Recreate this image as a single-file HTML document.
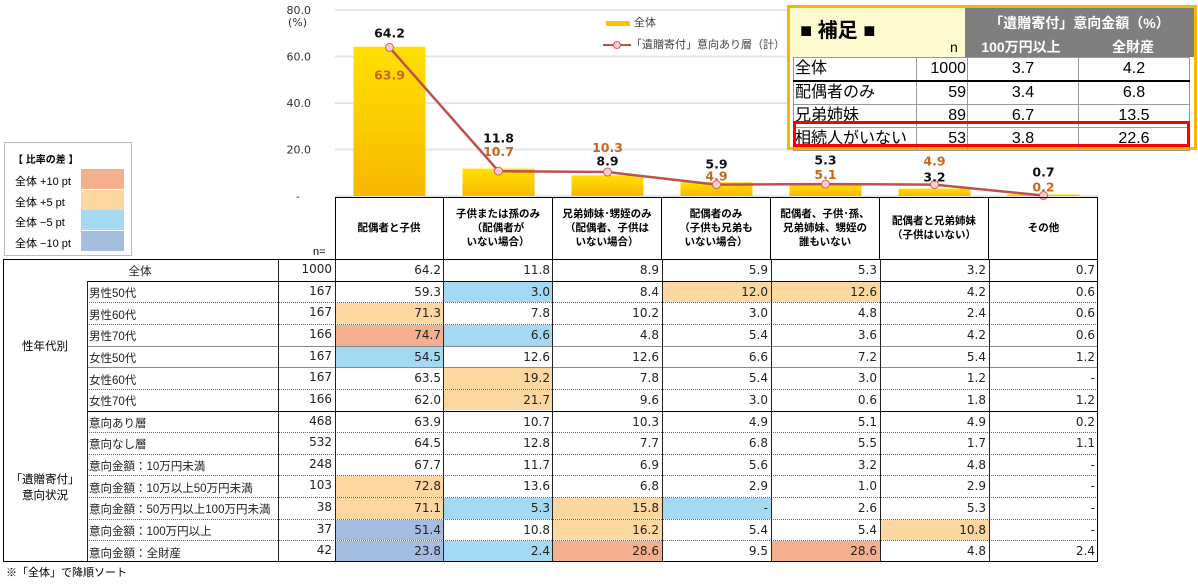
<!DOCTYPE html>
<html><head><meta charset="utf-8">
<style>
body{margin:0;width:1198px;height:584px;background:#fff;position:relative;overflow:hidden;font-family:"DejaVu Sans","Noto Sans CJK JP",sans-serif;}
.a{position:absolute;box-sizing:border-box;}
.jp{font-family:"Liberation Sans","Noto Sans CJK JP",sans-serif;}
.cell{position:absolute;box-sizing:border-box;font-size:12px;line-height:21px;text-align:right;padding-right:3px;color:#222;}
.lbl{display:flex;align-items:center;line-height:14px;padding-top:5px;}
.hd{position:absolute;box-sizing:border-box;font-size:10.5px;font-weight:bold;text-align:center;display:flex;align-items:center;justify-content:center;line-height:14px;border-right:1px solid #000;}
.sup td{border:1px solid #999;}
</style></head><body>
<svg id="chart" class="a" style="left:0;top:0" width="1198" height="260"></svg>

<div class="a jp" style="left:606px;top:14px;font-size:11px;color:#444;"><span style="display:inline-block;width:24px;height:5px;background:#f9c400;vertical-align:middle;margin-right:4px"></span>全体</div>
<div class="a jp" style="left:603px;top:36px;font-size:11px;color:#444;white-space:nowrap"><svg width="28" height="10" style="vertical-align:middle"><line x1="0" y1="5" x2="28" y2="5" stroke="#c0504d" stroke-width="2"/><circle cx="14" cy="5" r="3.5" fill="#fbd0c0" stroke="#d06060"/></svg>「遺贈寄付」意向あり層（計）</div>

<div class="a jp" style="left:4px;top:142px;width:128px;height:114px;border:1px solid #bbb;font-size:11px;">
<div style="position:absolute;left:8px;top:8px;font-weight:bold;font-size:10px">【 比率の差 】</div>
<div style="position:absolute;left:10px;top:30px">全体 +10 pt</div><div style="position:absolute;left:76px;top:26px;width:43px;height:20px;background:#f4b08e"></div>
<div style="position:absolute;left:10px;top:51px">全体 +5 pt</div><div style="position:absolute;left:76px;top:47px;width:43px;height:20px;background:#fcd7a0"></div>
<div style="position:absolute;left:10px;top:71px">全体 −5 pt</div><div style="position:absolute;left:76px;top:67px;width:43px;height:20px;background:#a3d9f3"></div>
<div style="position:absolute;left:10px;top:92px">全体 −10 pt</div><div style="position:absolute;left:76px;top:88px;width:43px;height:20px;background:#a4bde0"></div>
</div>

<div class="a jp" style="left:787px;top:5px;width:410px;height:145px;border:3px solid #f5b800;background:#fff">
 <div class="a" style="left:0;top:0;width:175px;height:49px;background:#fffbd0"></div>
 <div class="a" style="left:10px;top:6px;font-size:20px;font-weight:bold">■ 補足 ■</div>
 <div class="a" style="left:160px;top:31px;font-size:14px">n</div>
 <div class="a" style="left:175px;top:0;width:229px;height:49px;background:#7f7f7f;color:#fff;font-weight:bold;font-size:14px">
  <div class="a" style="left:0;top:5px;width:229px;text-align:center">「遺贈寄付」意向金額（%）</div>
  <div class="a" style="left:0;top:29px;width:112px;text-align:center">100万円以上</div>
  <div class="a" style="left:112px;top:29px;width:112px;text-align:center">全財産</div>
 </div>
 <table class="sup" style="position:absolute;left:3px;top:49px;border-collapse:collapse;font-size:16px;line-height:20px">
  <tr style="border-bottom:2px solid #000"><td style="width:120px">全体</td><td style="width:48px;text-align:right">1000</td><td style="width:108px;text-align:center">3.7</td><td style="width:108px;text-align:center">4.2</td></tr>
  <tr><td>配偶者のみ</td><td style="text-align:right">59</td><td style="text-align:center">3.4</td><td style="text-align:center">6.8</td></tr>
  <tr><td>兄弟姉妹</td><td style="text-align:right">89</td><td style="text-align:center">6.7</td><td style="text-align:center">13.5</td></tr>
  <tr><td>相続人がいない</td><td style="text-align:right">53</td><td style="text-align:center">3.8</td><td style="text-align:center">22.6</td></tr>
 </table>
 <div class="a" style="left:3px;top:113px;width:397px;height:26px;border:3px solid #f00"></div>
</div>

<div id="tbl"></div>
<div class="a jp" style="left:6px;top:564px;font-size:11px">※「全体」で降順ソート</div>

<script>
const categories=["配偶者と子供","子供または孫のみ\n（配偶者が\nいない場合）","兄弟姉妹･甥姪のみ\n（配偶者、子供は\nいない場合）","配偶者のみ\n（子供も兄弟も\nいない場合）","配偶者、子供･孫、\n兄弟姉妹、甥姪の\n誰もいない","配偶者と兄弟姉妹\n（子供はいない）","その他"];
const overallValues=[64.2,11.8,8.9,5.9,5.3,3.2,0.7];
const intentValues=[63.9,10.7,10.3,4.9,5.1,4.9,0.2];
const yTicks=[0,20,40,60,80];
const rowLabels=["全体","男性50代","男性60代","男性70代","女性50代","女性60代","女性70代","意向あり層","意向なし層","意向金額：10万円未満","意向金額：10万以上50万円未満","意向金額：50万円以上100万円未満","意向金額：100万円以上","意向金額：全財産"];
const rowN=[1000,167,167,166,167,167,166,468,532,248,103,38,37,42];
const rowValues=[
[64.2,11.8,8.9,5.9,5.3,3.2,0.7],
[59.3,3.0,8.4,12.0,12.6,4.2,0.6],
[71.3,7.8,10.2,3.0,4.8,2.4,0.6],
[74.7,6.6,4.8,5.4,3.6,4.2,0.6],
[54.5,12.6,12.6,6.6,7.2,5.4,1.2],
[63.5,19.2,7.8,5.4,3.0,1.2,null],
[62.0,21.7,9.6,3.0,0.6,1.8,1.2],
[63.9,10.7,10.3,4.9,5.1,4.9,0.2],
[64.5,12.8,7.7,6.8,5.5,1.7,1.1],
[67.7,11.7,6.9,5.6,3.2,4.8,null],
[72.8,13.6,6.8,2.9,1.0,2.9,null],
[71.1,5.3,15.8,null,2.6,5.3,null],
[51.4,10.8,16.2,5.4,5.4,10.8,null],
[23.8,2.4,28.6,9.5,28.6,4.8,2.4]];

const NS="http://www.w3.org/2000/svg";
const svg=document.getElementById('chart');
const colL=335,colW=109.0,y0=196,y80=10;
const y=v=>y0-(v/80)*(y0-y80);
const xc=i=>colL+colW*(i+0.5);
function mk(t,a){const e=document.createElementNS(NS,t);for(const k in a)e.setAttribute(k,a[k]);svg.appendChild(e);return e;}
const defs=mk('defs',{});
defs.innerHTML='<linearGradient id="bg" x1="0" y1="0" x2="0" y2="1"><stop offset="0" stop-color="#ffe000"/><stop offset="1" stop-color="#f8b800"/></linearGradient>';
yTicks.forEach(t=>{
 const g=mk('line',{x1:colL,x2:1098,y1:y(t),y2:y(t),stroke:'#e6e6e6','stroke-width':2});
 
 
 const tx=mk('text',{x:t===0?300:311,y:y(t)+4,'text-anchor':'end','font-size':11,fill:'#333'});
 tx.textContent=t===0?'-':t.toFixed(1);
 
 
});
const pu=mk('text',{x:288,y:26,'font-size':11,fill:'#333'});pu.textContent='(%)';


overallValues.forEach((v,i)=>{
 const r=mk('rect',{x:xc(i)-36,y:y(v),width:72,height:y0-y(v),fill:'url(#bg)'});
 
 
});
const pts=intentValues.map((v,i)=>xc(i)+','+y(v)).join(' ');
const pl=mk('polyline',{points:pts,fill:'none',stroke:'#c0504d','stroke-width':2.5});


intentValues.forEach((v,i)=>{
 const c=mk('circle',{cx:xc(i),cy:y(v),r:4,fill:'#fbd0c0',stroke:'#d06060','stroke-width':1});
 
 
});
const barLblOff=[-14,-31,-15,-19,-24,-12,-23];
const lineLblOff=[27,-20,-25,-9,-10,-24,-9];
overallValues.forEach((v,i)=>{
 const t=mk('text',{x:xc(i),y:y(v)+barLblOff[i]+5,'text-anchor':'middle','font-size':12.5,'font-weight':'bold',fill:'#111'});
 t.textContent=v.toFixed(1);
 
 
});
intentValues.forEach((v,i)=>{
 const t=mk('text',{x:xc(i),y:y(v)+lineLblOff[i]+5,'text-anchor':'middle','font-size':12.5,'font-weight':'bold',fill:'#c8661e'});
 t.textContent=v.toFixed(1);
 
 
});

const tbl=document.getElementById('tbl');
function div(cls,css,txt){const d=document.createElement('div');d.className=cls;d.style.cssText=css;if(txt!=null)d.textContent=txt;tbl.appendChild(d);return d;}
const top0=259,rh=(562-259)/14;
const hb=div('a','left:335px;top:197px;width:763px;height:62px;border:1px solid #000;border-bottom:none');


categories.forEach((c,i)=>{
 const h=div('hd jp','left:'+(colL+colW*i)+'px;top:197px;width:'+colW+'px;height:62px;white-space:pre;'+(i==6?'border-right:none':''),c);
 
 
});
const nl=div('a jp','left:313px;top:246px;font-size:11px','n=');


const ov=rowValues[0];
function color(v,i,r){if(r==0)return '';const d=(v==null?0:v)-ov[i];if(d>=10)return '#f4b08e';if(d>=5)return '#fcd7a0';if(d<=-10)return '#a4bde0';if(d<=-5)return '#a3d9f3';return '';}
const thick=[0,1,7,14];
rowLabels.forEach((lab,r)=>{
 const t=top0+rh*r;
 const bt=thick.includes(r)?'1.5px solid #000':(r==4||r==5?'1px solid #888':'1px dotted #666');
 div('a','left:'+(r==0?3:87)+'px;top:'+t+'px;width:'+(1098-(r==0?3:87))+'px;height:0;border-top:'+bt);
 const lc=div('cell jp lbl','left:'+(r==0?3:87)+'px;top:'+t+'px;width:'+(r==0?275:191)+'px;height:'+rh+'px;justify-content:'+(r==0?'center':'flex-start')+';padding-left:2px;font-size:11.5px;',lab);
 
 
 const nc=div('cell','left:278px;top:'+t+'px;width:57px;height:'+rh+'px;',rowN[r]);
 
 
 rowValues[r].forEach((v,i)=>{
  const bg=color(v,i,r);
  const c=div('cell','left:'+(colL+colW*i)+'px;top:'+(t+1)+'px;width:'+colW+'px;height:'+(rh-1)+'px;'+(bg?'background:'+bg:''),v==null?'-':v.toFixed(1));
  
  
 });
});
div('a','left:3px;top:259px;width:1095px;height:303px;border:1.5px solid #000');
[87,278,335,443,552,662,771,880,989].forEach(x=>{div('a','left:'+x+'px;top:'+(x==87?281:259)+'px;width:0;height:'+(x==87?281:303)+'px;border-left:1.5px solid #222');});
[2,3,4,5,6,8,9,10,11,12,13].forEach(r=>{div('a','left:4px;top:'+(top0+rh*r-1)+'px;width:82px;height:3px;background:#fff');});
const g1=div('a jp','left:3px;top:281px;width:84px;height:130px;display:flex;align-items:center;justify-content:center;font-size:11.5px','性年代別');


const g2=div('a jp','left:3px;top:411px;width:84px;height:151px;display:flex;align-items:center;justify-content:center;font-size:11.5px;text-align:center;white-space:pre','「遺贈寄付」\n意向状況');


</script>
</body></html>
